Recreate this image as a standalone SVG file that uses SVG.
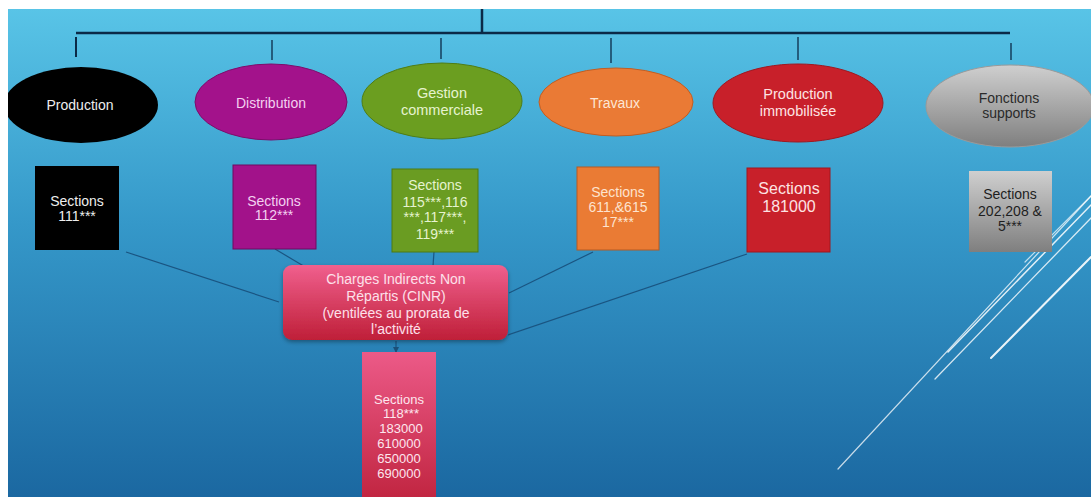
<svg xmlns="http://www.w3.org/2000/svg" width="1091" height="497" viewBox="0 0 1091 497">
  <defs>
    <linearGradient id="bg" x1="0" y1="0" x2="0" y2="1">
      <stop offset="0" stop-color="#5ac6e8"/>
      <stop offset="0.45" stop-color="#3598c9"/>
      <stop offset="1" stop-color="#1b68a1"/>
    </linearGradient>
    <linearGradient id="gray" x1="0" y1="0" x2="0" y2="1">
      <stop offset="0" stop-color="#cfcfcf"/>
      <stop offset="1" stop-color="#7f7f7f"/>
    </linearGradient>
    <linearGradient id="pink" x1="0" y1="0" x2="0" y2="1">
      <stop offset="0" stop-color="#f0608e"/>
      <stop offset="1" stop-color="#bf1f38"/>
    </linearGradient>
    <linearGradient id="pink2" x1="0" y1="0" x2="0" y2="1">
      <stop offset="0" stop-color="#ec5a88"/>
      <stop offset="1" stop-color="#c0243f"/>
    </linearGradient>
    <filter id="sh" x="-10%" y="-10%" width="120%" height="130%">
      <feDropShadow dx="0" dy="2" stdDeviation="2" flood-color="#000" flood-opacity="0.35"/>
    </filter>
    <marker id="arr" viewBox="0 0 10 10" refX="10" refY="5" markerWidth="5" markerHeight="5" orient="auto">
      <path d="M0,0 L10,5 L0,10 z" fill="#1b4f78"/>
    </marker>
  </defs>
  <style>
    .t { font-family: "Liberation Sans", Arial, sans-serif; text-anchor: middle; }
    .tree { stroke: #0b2a47; fill: none; }
    .conn { stroke: #1a5582; stroke-width: 1.2; fill: none; }
    .deco { stroke: #ffffff; fill: none; stroke-linecap: round; }
  </style>

  <rect x="0" y="0" width="1091" height="497" fill="url(#bg)"/>

  <!-- decorative lines -->
  <g id="decor">
    <line class="deco" x1="838" y1="469" x2="1091" y2="196" stroke-width="1.2" opacity="0.75"/>
    <line class="deco" x1="935" y1="379" x2="1091" y2="218" stroke-width="1.3" opacity="0.8"/>
    <line class="deco" x1="948" y1="352" x2="1091" y2="205" stroke-width="1.5" opacity="0.85"/>
    <line class="deco" x1="991" y1="358" x2="1091" y2="257" stroke-width="2" opacity="0.9"/>
    <line class="deco" x1="1025" y1="262" x2="1091" y2="196" stroke-width="1.2" opacity="0.7"/>
  </g>

  <!-- connectors -->
  <g id="connectors">
    <line class="tree" x1="482" y1="9" x2="482" y2="33" stroke-width="2.5"/>
    <line class="tree" x1="76" y1="33" x2="1010" y2="33" stroke-width="2.5"/>
    <line class="tree" x1="76" y1="37" x2="76" y2="57" stroke-width="2"/>
    <line class="tree" x1="272" y1="40" x2="272" y2="60" stroke-width="1.3"/>
    <line class="tree" x1="441" y1="38" x2="441" y2="59" stroke-width="1.3"/>
    <line class="tree" x1="611" y1="38" x2="611" y2="63" stroke-width="1.3"/>
    <line class="tree" x1="798" y1="37" x2="798" y2="60" stroke-width="1.3"/>
    <line class="tree" x1="1011" y1="43" x2="1011" y2="60" stroke-width="1.3"/>
    <line class="conn" x1="126" y1="252" x2="279" y2="302"/>
    <line class="conn" x1="275" y1="249" x2="317" y2="274"/>
    <line class="conn" x1="434" y1="252" x2="432" y2="280"/>
    <line class="conn" x1="593" y1="252" x2="509" y2="293"/>
    <line class="conn" x1="747" y1="254" x2="508" y2="335"/>
    <line class="conn" x1="396" y1="341" x2="396" y2="353" marker-end="url(#arr)"/>
  </g>

  <!-- ellipses -->
  <g id="n-production">
    <ellipse cx="81" cy="105" rx="77" ry="38" fill="#000000"/>
    <text class="t" x="80" y="110" font-size="14" fill="#eeeeee">Production</text>
  </g>
  <g id="n-distribution">
    <ellipse cx="271" cy="102" rx="76" ry="38" fill="#a3128b" stroke="#7d0c6b" stroke-width="1"/>
    <text class="t" x="271" y="108" font-size="14" fill="#f3d0f0">Distribution</text>
  </g>
  <g id="n-gestion">
    <ellipse cx="442" cy="101" rx="80" ry="38" fill="#6b9e20" stroke="#4f7d14" stroke-width="1"/>
    <text class="t" x="442" y="98" font-size="14.5" fill="#e6f3cf">Gestion</text>
    <text class="t" x="442" y="115" font-size="14.5" fill="#e6f3cf">commerciale</text>
  </g>
  <g id="n-travaux">
    <ellipse cx="616" cy="102" rx="77" ry="34" fill="#ea7a35" stroke="#c25d22" stroke-width="1"/>
    <text class="t" x="615" y="108" font-size="14" fill="#fde6d4">Travaux</text>
  </g>
  <g id="n-prodimmo">
    <ellipse cx="798" cy="103" rx="85" ry="39" fill="#c8202a" stroke="#a0171f" stroke-width="1"/>
    <text class="t" x="798" y="99" font-size="14.5" fill="#fde3e3">Production</text>
    <text class="t" x="798" y="116" font-size="14.5" fill="#fde3e3">immobilisée</text>
  </g>
  <g id="n-fonctions">
    <ellipse cx="1010" cy="106" rx="84" ry="41" fill="url(#gray)" stroke="#9a9a9a" stroke-width="1"/>
    <text class="t" x="1009" y="103" font-size="14" fill="#2a2a2a">Fonctions</text>
    <text class="t" x="1009" y="118" font-size="14" fill="#2a2a2a">supports</text>
  </g>

  <!-- section boxes -->
  <g id="s-111">
    <rect x="35" y="166" width="84" height="84" fill="#000000"/>
    <text class="t" x="77" y="206" font-size="14" fill="#eeeeee">Sections</text>
    <text class="t" x="77" y="221" font-size="14" fill="#eeeeee">111***</text>
  </g>
  <g id="s-112">
    <rect x="233" y="165" width="83" height="84" fill="#a2128a" stroke="#6e0b60" stroke-width="1"/>
    <text class="t" x="274" y="206" font-size="14" fill="#f3d0f0">Sections</text>
    <text class="t" x="274" y="220" font-size="14" fill="#f3d0f0">112***</text>
  </g>
  <g id="s-115">
    <rect x="392" y="169" width="86" height="83" fill="#6a9c22" stroke="#4d7a12" stroke-width="1"/>
    <text class="t" x="435" y="190" font-size="14" fill="#e6f3cf">Sections</text>
    <text class="t" x="435" y="207" font-size="14" fill="#e6f3cf">115***,116</text>
    <text class="t" x="435" y="222" font-size="14" fill="#e6f3cf">***,117***,</text>
    <text class="t" x="435" y="239" font-size="14" fill="#e6f3cf">119***</text>
  </g>
  <g id="s-611">
    <rect x="577" y="167" width="82" height="83" fill="#ea7b34" stroke="#b55a22" stroke-width="1"/>
    <text class="t" x="618" y="197" font-size="14" fill="#fde3cf">Sections</text>
    <text class="t" x="618" y="212" font-size="14" fill="#fde3cf">611,&amp;615</text>
    <text class="t" x="618" y="227" font-size="14" fill="#fde3cf">17***</text>
  </g>
  <g id="s-181">
    <rect x="747" y="168" width="83" height="84" fill="#c8202a" stroke="#a0171f" stroke-width="1"/>
    <text class="t" x="789" y="194" font-size="16" fill="#fde3e3">Sections</text>
    <text class="t" x="789" y="212" font-size="16" fill="#fde3e3">181000</text>
  </g>
  <g id="s-202">
    <rect x="969" y="171" width="83" height="81" fill="url(#gray)"/>
    <text class="t" x="1010" y="199" font-size="14" fill="#1e1e1e">Sections</text>
    <text class="t" x="1010" y="216" font-size="14" fill="#1e1e1e">202,208 &amp;</text>
    <text class="t" x="1010" y="231" font-size="14" fill="#1e1e1e">5***</text>
  </g>

  <!-- CINR -->
  <g id="n-cinr">
    <rect x="283" y="265" width="225" height="75" rx="9" ry="9" fill="url(#pink)" filter="url(#sh)"/>
    <text class="t" x="396" y="284" font-size="14" fill="#fde0ea">Charges Indirects Non</text>
    <text class="t" x="396" y="301" font-size="14" fill="#fde0ea">Répartis (CINR)</text>
    <text class="t" x="396" y="318" font-size="14" fill="#fde0ea">(ventilées au prorata de</text>
    <text class="t" x="396" y="334" font-size="14" fill="#fde0ea">l’activité</text>
  </g>

  <!-- 118 box -->
  <g id="s-118">
    <rect x="362" y="352" width="74" height="150" fill="url(#pink2)"/>
    <text class="t" x="399" y="404" font-size="13" fill="#fde6ee">Sections</text>
    <text class="t" x="401" y="418" font-size="13" fill="#fde6ee">118***</text>
    <text class="t" x="401" y="433" font-size="13" fill="#fde6ee">183000</text>
    <text class="t" x="399" y="448" font-size="13" fill="#fde6ee">610000</text>
    <text class="t" x="399" y="463" font-size="13" fill="#fde6ee">650000</text>
    <text class="t" x="399" y="478" font-size="13" fill="#fde6ee">690000</text>
  </g>

  <!-- white frame -->
  <rect x="0" y="0" width="1091" height="9" fill="#ffffff"/>
  <rect x="0" y="0" width="8" height="497" fill="#ffffff"/>
</svg>
